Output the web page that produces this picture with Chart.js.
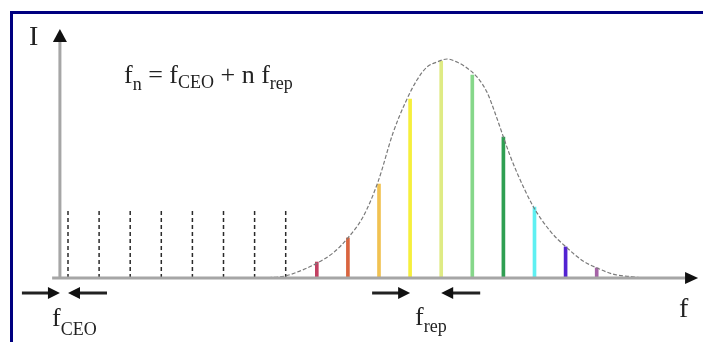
<!doctype html>
<html lang="en">
<head>
<meta charset="utf-8">
<title>Frequency comb</title>
<script src="https://cdn.jsdelivr.net/npm/chart.js@4.4.1/dist/chart.umd.min.js"></script>
<style>
  html, body { margin: 0; padding: 0; background: #fff; }
  #wrap { width: 703px; height: 342px; }
</style>
</head>
<body>
<div id="wrap"><canvas id="myChart" width="703" height="342"></canvas></div>
<script>
// comb teeth: mode number n and intensity (% of envelope peak)
const dashedN = [0, 1, 2, 3, 4, 5, 6, 7];
const dashedI = [32, 32, 32, 32, 32, 32, 32, 32];
const colorN = [8, 9, 10, 11, 12, 13, 14, 15, 16, 17];
const colorI = [7.3, 18.3, 42.9, 81.7, 99.1, 92.7, 64.4, 32.4, 14.2, 4.6];
const colorList = ['#c24062', '#d9653f', '#f1c251', '#f6ef3c', '#dfeb84',
                   '#86d78a', '#2f9f52', '#5ff0f2', '#5222d2', '#a562a6'];

// spectral envelope
const envN = [6.24, 6.98, 7.46, 8.01, 8.52, 9.00, 9.49, 9.97, 10.45, 10.84,
              11.22, 11.54, 11.86, 12.19, 12.51, 12.83, 13.15, 13.47, 13.79, 14.00,
              14.21, 14.44, 14.95, 15.50, 16.01, 16.56, 17.01, 17.52, 18.17, 18.49];
const envI = [0, 0.9, 3.2, 6.8, 11.4, 18.3, 28.0, 44.0, 66.2, 79.9,
              90.4, 96.3, 98.6, 100, 98.6, 95.9, 91.8, 84.9, 73.0, 64.4,
              56.0, 48.0, 32.9, 21.5, 14.2, 7.8, 4.6, 1.8, 0.5, 0];

const yAxisN = -0.26;   // where the I axis stands on the f axis
const axisStartN = -0.51, axisEndN = 20.26, axisTopI = 113.7;

const FONT = '"Liberation Serif", "Times New Roman", serif';
const INK = '#222';

// a chain of points with null breaks so each tooth is its own segment
const dashedPts = [];
dashedN.forEach((n, i) => {
    dashedPts.push({x: n, y: 0}, {x: n, y: dashedI[i]}, {x: n, y: null});
});

const arrowHead = (ctx, x, y, dir, len, half) => {
    ctx.beginPath();
    if (dir === 'up') {
        ctx.moveTo(x, y); ctx.lineTo(x - half, y + len); ctx.lineTo(x + half, y + len);
    } else if (dir === 'right') {
        ctx.moveTo(x, y); ctx.lineTo(x - len, y - half); ctx.lineTo(x - len, y + half);
    } else {
        ctx.moveTo(x, y); ctx.lineTo(x + len, y - half); ctx.lineTo(x + len, y + half);
    }
    ctx.closePath();
    ctx.fill();
};

const arrow = (ctx, x0, x1, y) => {
    const dir = x1 > x0 ? 'right' : 'left';
    ctx.beginPath();
    ctx.moveTo(x0, y);
    ctx.lineTo(dir === 'right' ? x1 - 8 : x1 + 8, y);
    ctx.stroke();
    arrowHead(ctx, x1, y, dir, 12, 6);
};

// text with a subscript, returns x after it
const subText = (ctx, main, sub, x, y, big, small, drop) => {
    ctx.font = big + 'px ' + FONT;
    ctx.fillText(main, x, y);
    x += ctx.measureText(main).width;
    if (sub) {
        ctx.font = small + 'px ' + FONT;
        ctx.fillText(sub, x, y + drop);
        x += ctx.measureText(sub).width;
    }
    return x;
};

const decorations = {
    id: 'decorations',
    afterDatasetsDraw(chart) {
        const ctx = chart.ctx;
        const xs = chart.scales.x, ys = chart.scales.y;
        const base = ys.getPixelForValue(0);
        const yax = xs.getPixelForValue(yAxisN);
        ctx.save();

        // frame
        ctx.fillStyle = '#000080';
        ctx.fillRect(10, 11, 703, 3);
        ctx.fillRect(10, 11, 3, 342);

        // axes
        ctx.strokeStyle = '#a6a6a6';
        ctx.lineWidth = 3;
        ctx.beginPath();
        ctx.moveTo(xs.getPixelForValue(axisStartN), base);
        ctx.lineTo(xs.getPixelForValue(axisEndN) - 10, base);
        ctx.moveTo(yax, base + 1);
        ctx.lineTo(yax, ys.getPixelForValue(axisTopI) + 10);
        ctx.stroke();
        ctx.fillStyle = '#111';
        arrowHead(ctx, yax, ys.getPixelForValue(axisTopI), 'up', 13, 7);
        arrowHead(ctx, xs.getPixelForValue(axisEndN), base, 'right', 13, 6);

        // spacing arrows
        ctx.strokeStyle = '#222';
        ctx.lineWidth = 3;
        const ay = base + 15;
        arrow(ctx, yax - 38, yax, ay);
        arrow(ctx, xs.getPixelForValue(0) + 39, xs.getPixelForValue(0), ay);
        arrow(ctx, xs.getPixelForValue(11) - 38, xs.getPixelForValue(11), ay);
        arrow(ctx, xs.getPixelForValue(12) + 39, xs.getPixelForValue(12), ay);

        // labels
        ctx.fillStyle = INK;
        ctx.textBaseline = 'alphabetic';
        ctx.font = '28px ' + FONT;
        ctx.fillText('I', 29, 45);
        ctx.fillText('f', 679, 317);

        subText(ctx, 'f', 'CEO', 52, 326, 26, 18, 9);
        subText(ctx, 'f', 'rep', 415, 325, 26, 18, 7);

        let x = 124;
        x = subText(ctx, 'f', 'n', x, 83, 26, 18, 7);
        x = subText(ctx, ' = f', 'CEO', x, 83, 26, 18, 5);
        x = subText(ctx, ' + n f', 'rep', x, 83, 26, 18, 6);

        ctx.restore();
    }
};

new Chart(document.getElementById('myChart'), {
    data: {
        datasets: [
            {
                type: 'line',
                data: envN.map((n, i) => ({x: n, y: envI[i]})),
                borderColor: '#7a7a7a',
                borderWidth: 1.2,
                borderDash: [4, 2],
                pointRadius: 0,
                cubicInterpolationMode: 'monotone',
                fill: false
            },
            {
                type: 'line',
                data: dashedPts,
                borderColor: '#2a2a2a',
                borderWidth: 1.5,
                borderDash: [4, 3],
                pointRadius: 0,
                spanGaps: false,
                tension: 0
            },
            {
                type: 'bar',
                data: colorN.map((n, i) => ({x: n, y: colorI[i]})),
                backgroundColor: colorList,
                borderWidth: 0,
                barThickness: 3,
                grouped: false
            }
        ]
    },
    options: {
        responsive: false,
        animation: false,
        devicePixelRatio: 1,
        layout: { padding: 0 },
        plugins: { legend: { display: false }, tooltip: { enabled: false } },
        scales: {
            x: { type: 'linear', display: false, offset: false, min: -68 / 31.1, max: 635 / 31.1 },
            y: { type: 'linear', display: false, min: -29.22, max: 126.94 }
        }
    },
    plugins: [decorations]
});
</script>
</body>
</html>
